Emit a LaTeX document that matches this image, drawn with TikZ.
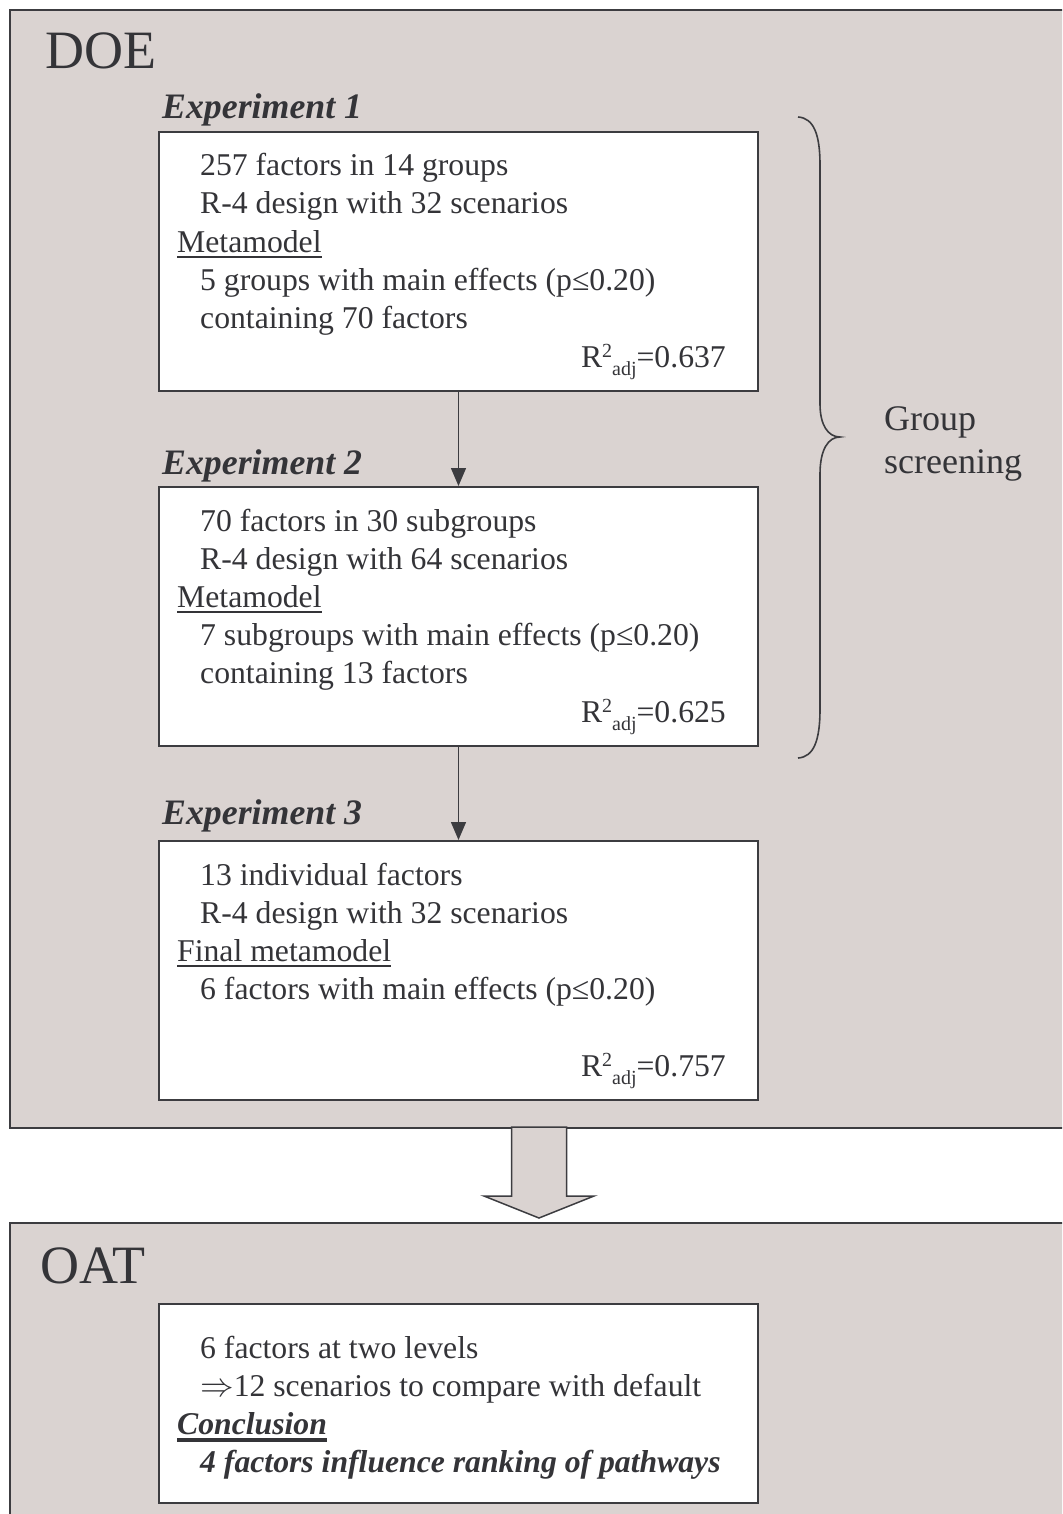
\documentclass[tikz,border=0pt]{standalone}
\usepackage{graphicx}
\usepackage{fontspec}
\setmainfont{Liberation Serif}
\usetikzlibrary{arrows.meta}

\definecolor{panelfill}{RGB}{218,211,209}
\definecolor{ink}{RGB}{52,52,56}
\definecolor{edge}{RGB}{60,60,64}

% R^2_adj followed by its value
\newcommand\Rsqadj[1]{R\raisebox{9.5pt}{\fontsize{20}{20}\selectfont 2}\raisebox{-8.5pt}{\fontsize{20}{20}\selectfont adj}=#1}

\tikzset{
  panel/.style={draw=edge, line width=2pt, fill=panelfill, anchor=north west, inner sep=0pt},
  expbox/.style={draw=edge, line width=2pt, fill=white, anchor=north west, inner sep=0pt,
                 minimum width=599pt, minimum height=259pt},
  body/.style={font=\fontsize{31.7}{38}\selectfont, text=ink, inner sep=0pt, anchor=base west},
  rsq/.style={body, anchor=base east},
  title/.style={font=\fontsize{54}{60}\selectfont, text=ink, inner sep=0pt, anchor=base west},
  exptitle/.style={font=\fontsize{35.8}{43}\selectfont\bfseries\itshape, text=ink, inner sep=0pt, anchor=base west},
  side/.style={font=\fontsize{36}{43}\selectfont, text=ink, inner sep=0pt, anchor=base west},
  conn/.style={draw=edge, line width=1.5pt, -{Triangle[length=18pt,width=15pt]}},
  uline/.style={draw=ink, line width=2pt},
  thickuline/.style={draw=ink, line width=3.5pt},
}

\begin{document}
\begin{tikzpicture}[x=1pt,y=-1pt]
\useasboundingbox (0,0) rectangle (1062,1514);
\clip (0,0) rectangle (1062,1514);

% outer panels
\node[panel, minimum width=1080pt, minimum height=1118pt] (doe) at (9,9) {};
\node[panel, minimum width=1080pt, minimum height=320pt] (oat) at (9,1222) {};

% broad arrow from DOE to OAT
\coordinate (ba) at (539,1127);
\draw[draw=edge, line width=1.5pt, fill=panelfill, line join=miter]
  ([xshift=-27.5pt]ba) -- ([xshift=27.5pt]ba) -- ([xshift=27.5pt,yshift=-69pt]ba)
  -- ([xshift=55pt,yshift=-69pt]ba) -- ([yshift=-91pt]ba) -- ([xshift=-55pt,yshift=-69pt]ba)
  -- ([xshift=-27.5pt,yshift=-69pt]ba) -- cycle;

\node[title] (doet) at (45,69) {DOE};
\node[title] (oatt) at (40,1283) {OAT};

% experiment boxes
\node[expbox] (e1) at (158,131) {};
\node[expbox] (e2) at (158,486) {};
\node[expbox] (e3) at (158,840) {};
\node[expbox, minimum height=199pt] (o1) at (158,1303) {};

\draw[conn] (e1.south) -- (e2.north);
\draw[conn] (e2.south) -- (e3.north);

% Experiment 1
\node[exptitle] (x1) at (162,119) {Experiment 1};
\node[body] (a1) at (200,176) {257 factors in 14 groups};
\node[body] (a2) at (200,214) {R-4 design with 32 scenarios};
\node[body] (a3) at (177,252) {Metamodel};
\node[body] (a4) at (200,290) {5 groups with main effects (p≤0.20)};
\node[body] (a5) at (200,328) {containing 70 factors};
\node[rsq]  (a6) at (726,367) {\Rsqadj{0.637}};
\draw[uline] ([yshift=-5pt]a3.base west) -- ([yshift=-5pt]a3.base east);

% Experiment 2
\node[exptitle] (x2) at (162,474) {Experiment 2};
\node[body] (b1) at (200,531) {70 factors in 30 subgroups};
\node[body] (b2) at (200,569) {R-4 design with 64 scenarios};
\node[body] (b3) at (177,607) {Metamodel};
\node[body] (b4) at (200,645) {7 subgroups with main effects (p≤0.20)};
\node[body] (b5) at (200,683) {containing 13 factors};
\node[rsq]  (b6) at (726,722) {\Rsqadj{0.625}};
\draw[uline] ([yshift=-5pt]b3.base west) -- ([yshift=-5pt]b3.base east);

% Experiment 3
\node[exptitle] (x3) at (162,824) {Experiment 3};
\node[body] (c1) at (200,885) {13 individual factors};
\node[body] (c2) at (200,923) {R-4 design with 32 scenarios};
\node[body] (c3) at (177,961) {Final metamodel};
\node[body] (c4) at (200,999) {6 factors with main effects (p≤0.20)};
\node[rsq]  (c6) at (726,1076) {\Rsqadj{0.757}};
\draw[uline] ([yshift=-5pt]c3.base west) -- ([yshift=-5pt]c3.base east);

% OAT box
\node[body] (d1) at (200,1358) {6 factors at two levels};
\node[body] (d2) at (200,1396) {\scalebox{1.35}{$\Rightarrow$}12 scenarios to compare with default};
\node[body, font=\fontsize{31.7}{38}\selectfont\bfseries\itshape] (d3) at (177,1434) {Conclusion};
\node[body, font=\fontsize{31.7}{38}\selectfont\bfseries\itshape] (d4) at (200,1472) {4 factors influence ranking of pathways};
\draw[thickuline] ([yshift=-6pt]d3.base west) -- ([yshift=-6pt]d3.base east);

% brace spanning the first two experiments
\draw[draw=edge, line width=1.6pt]
  (798,117) .. controls (814,118) and (820,135) .. (820,165) -- (820,404)
  .. controls (820,425) and (828,437) .. (840,437)
  .. controls (828,437) and (820,450) .. (820,474) -- (820,709)
  .. controls (820,740) and (814,757) .. (798,758);
\node[side] (g1) at (884,430) {Group};
\node[side] (g2) at (884,473) {screening};
\end{tikzpicture}
\end{document}
